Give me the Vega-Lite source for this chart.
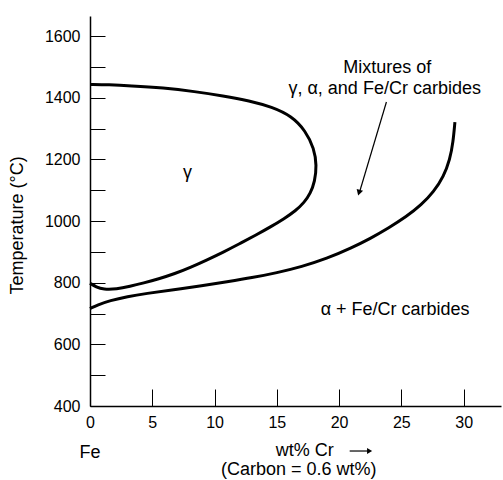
{
  "$schema": "https://vega.github.io/schema/vega-lite/v6.json",
  "autosize": {"type": "none"},
  "padding": {"left": 90, "top": 16, "right": 2, "bottom": 74},
  "width": 411,
  "height": 390,
  "background": "white",
  "config": {"font": "Liberation Sans", "view": {"stroke": null}},
  "datasets": {
    "gamma": [
      {"o": 1, "x": 0, "y": 798}, {"o": 2, "x": 0.5, "y": 786}, {"o": 3, "x": 1.07, "y": 778},
      {"o": 4, "x": 2.14, "y": 779}, {"o": 5, "x": 3.2, "y": 788}, {"o": 6, "x": 4.3, "y": 799},
      {"o": 7, "x": 5.5, "y": 812}, {"o": 8, "x": 6.8, "y": 829}, {"o": 9, "x": 8.1, "y": 850},
      {"o": 10, "x": 9.4, "y": 874}, {"o": 11, "x": 10.7, "y": 899}, {"o": 12, "x": 12.0, "y": 926},
      {"o": 13, "x": 13.3, "y": 954}, {"o": 14, "x": 14.5, "y": 981}, {"o": 15, "x": 15.6, "y": 1008},
      {"o": 16, "x": 16.5, "y": 1033}, {"o": 17, "x": 17.2, "y": 1060}, {"o": 18, "x": 17.7, "y": 1090},
      {"o": 19, "x": 18.05, "y": 1128}, {"o": 20, "x": 18.2, "y": 1180},
      {"o": 21, "x": 18.0, "y": 1235}, {"o": 22, "x": 17.3, "y": 1293}, {"o": 23, "x": 16.2, "y": 1340},
      {"o": 24, "x": 14.6, "y": 1370}, {"o": 25, "x": 12.8, "y": 1390}, {"o": 26, "x": 10.7, "y": 1406},
      {"o": 27, "x": 8.4, "y": 1420}, {"o": 28, "x": 5.9, "y": 1432}, {"o": 29, "x": 3.2, "y": 1439},
      {"o": 30, "x": 1.5, "y": 1442}, {"o": 31, "x": 0, "y": 1443}
    ],
    "alpha": [
      {"x": 0, "y": 716}, {"x": 0.6, "y": 728}, {"x": 1.6, "y": 742}, {"x": 3, "y": 755},
      {"x": 4.5, "y": 765}, {"x": 6.7, "y": 777}, {"x": 9, "y": 790}, {"x": 11, "y": 803},
      {"x": 13, "y": 816}, {"x": 15, "y": 832}, {"x": 17, "y": 852}, {"x": 19, "y": 878},
      {"x": 21, "y": 913}, {"x": 22.5, "y": 943}, {"x": 24, "y": 978}, {"x": 25.4, "y": 1014},
      {"x": 26.6, "y": 1052}, {"x": 27.6, "y": 1095}, {"x": 28.4, "y": 1145},
      {"x": 28.9, "y": 1200}, {"x": 29.15, "y": 1255}, {"x": 29.3, "y": 1321}
    ],
    "shafts": [
      {"g": "a", "x": 23.8, "y": 1386}, {"g": "a", "x": 21.65, "y": 1095},
      {"g": "b", "x": 20.85, "y": 254}, {"g": "b", "x": 22.4, "y": 254}
    ],
    "headA": [{"x": 21.6, "y": 1092}],
    "headB": [{"x": 22.45, "y": 254}],
    "labels": [
      {"x": 23.86, "y": 1495, "t": "Mixtures of"},
      {"x": 23.66, "y": 1427, "t": "γ, α, and Fe/Cr carbides"},
      {"x": 7.82, "y": 1155, "t": "γ"},
      {"x": 24.5, "y": 711, "t": "α + Fe/Cr carbides"},
      {"x": 0, "y": 248, "t": "Fe"},
      {"x": 17.24, "y": 254, "t": "wt% Cr"},
      {"x": 16.76, "y": 193, "t": "(Carbon = 0.6 wt%)"}
    ]
  },
  "encoding": {
    "x": {
      "field": "x", "type": "quantitative",
      "scale": {"domain": [0, 33], "nice": false, "zero": false},
      "axis": {
        "title": null, "values": [0, 5, 10, 15, 20, 25, 30], "grid": false, "format": "d",
        "tickSize": -17, "labelPadding": 25, "labelFlush": false, "labelOverlap": false,
        "labelFontSize": 16, "labelColor": "black", "tickColor": "black", "tickWidth": 1,
        "domainColor": "black", "domainWidth": 1.5
      }
    },
    "y": {
      "field": "y", "type": "quantitative",
      "scale": {"domain": [400, 1665], "nice": false, "zero": false},
      "axis": {
        "title": "Temperature (°C)", "values": [400, 500, 600, 700, 800, 900, 1000, 1100, 1200, 1300, 1400, 1500, 1600],
        "format": "d",
        "labelExpr": "datum.value % 200 === 0 ? datum.label : ''",
        "grid": false, "tickSize": -15, "labelPadding": 25, "labelFlush": false, "labelOverlap": false,
        "labelFontSize": 16, "labelColor": "black", "tickColor": "black", "tickWidth": 1,
        "domainColor": "black", "domainWidth": 1.5,
        "titleFontSize": 18, "titleFontWeight": "normal", "titleColor": "black",
        "titleX": -73, "titleY": 209, "titleBaseline": "middle", "titleAngle": -90
      }
    }
  },
  "layer": [
    {
      "data": {"name": "gamma"},
      "mark": {"type": "line", "color": "black", "strokeWidth": 3, "interpolate": "basis"},
      "encoding": {"order": {"field": "o", "type": "quantitative"}}
    },
    {
      "data": {"name": "alpha"},
      "mark": {"type": "line", "color": "black", "strokeWidth": 3, "interpolate": "basis"},
      "encoding": {}
    },
    {
      "data": {"name": "shafts"},
      "mark": {"type": "line", "color": "black", "strokeWidth": 1.2},
      "encoding": {"detail": {"field": "g", "type": "nominal"}}
    },
    {
      "data": {"name": "headA"},
      "mark": {"type": "point", "shape": "triangle-down", "angle": 17, "filled": true, "color": "black", "size": 45, "opacity": 1},
      "encoding": {}
    },
    {
      "data": {"name": "headB"},
      "mark": {"type": "point", "shape": "triangle-right", "filled": true, "color": "black", "size": 35, "opacity": 1},
      "encoding": {}
    },
    {
      "data": {"name": "labels"},
      "mark": {"type": "text", "fontSize": 18, "color": "black", "align": "center", "baseline": "middle"},
      "encoding": {"text": {"field": "t", "type": "nominal"}}
    }
  ]
}
